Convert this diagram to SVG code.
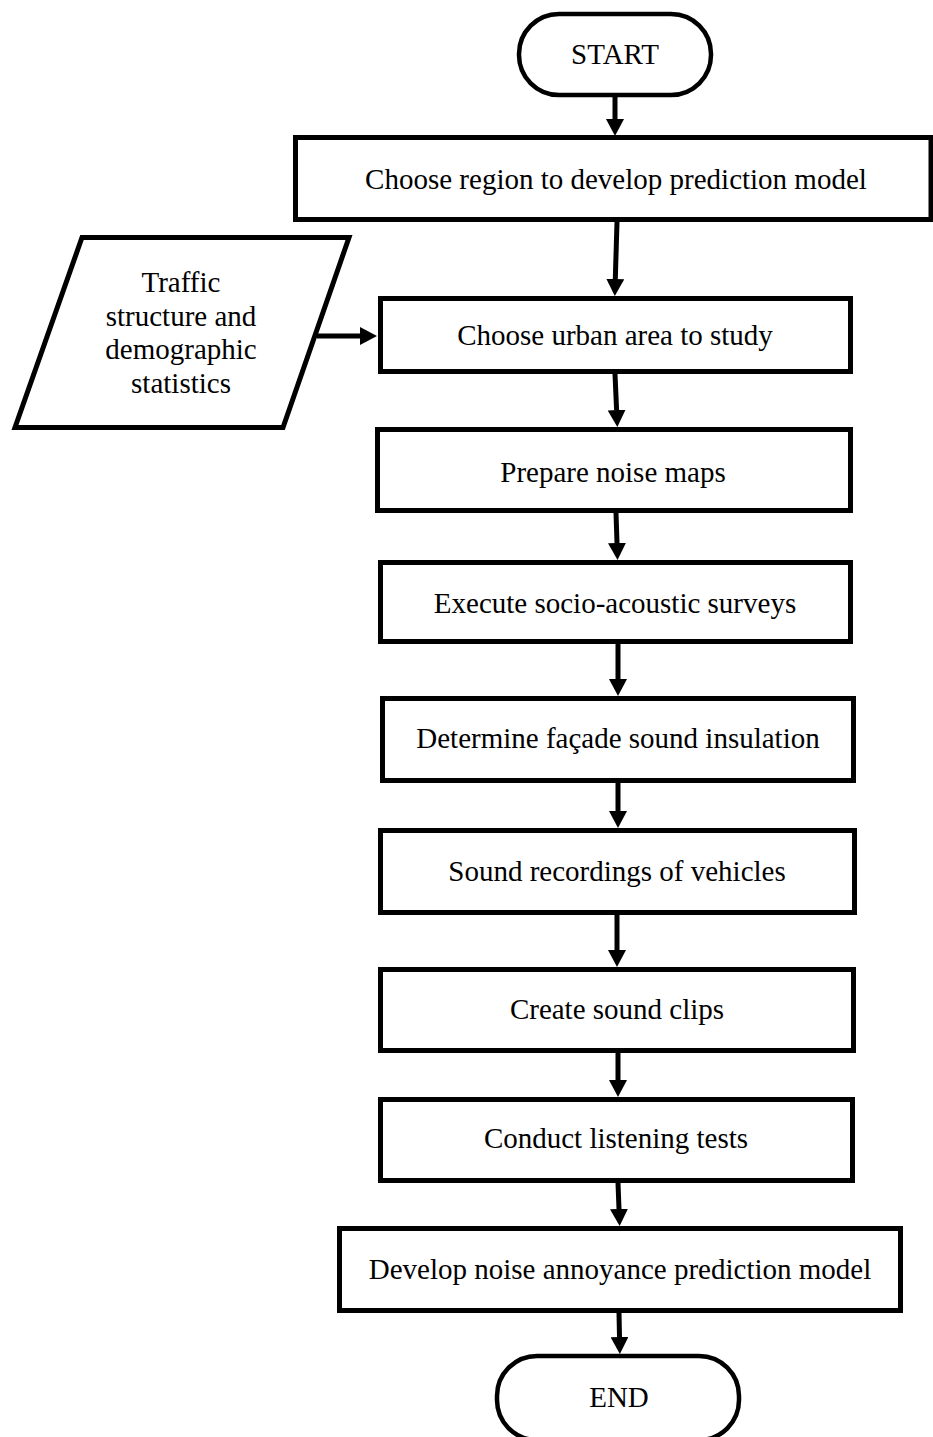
<svg xmlns="http://www.w3.org/2000/svg" width="933" height="1437" viewBox="0 0 933 1437">
<style>
.shape{fill:#fff;stroke:#000;stroke-width:5}
.term{fill:#fff;stroke:#000;stroke-width:4.5}
.lbl{font-family:"Liberation Serif","Times New Roman",serif;font-size:29px;fill:#000;text-anchor:middle}
.conn{stroke:#000;stroke-width:5;fill:none}
</style>
<defs>
<marker id="ah" markerUnits="userSpaceOnUse" markerWidth="17" markerHeight="18" viewBox="0 -9 17 18" refX="0" refY="0" orient="auto">
<path d="M0,-9 L17,0 L0,9 z" fill="#000"/>
</marker>
</defs>
<rect width="933" height="1437" fill="#fff"/>
<g id="connectors">
<line class="conn" x1="615" y1="97" x2="615" y2="119" marker-end="url(#ah)"/>
<line class="conn" x1="617" y1="222" x2="615.3" y2="279" marker-end="url(#ah)"/>
<line class="conn" x1="615" y1="374" x2="616.6" y2="410" marker-end="url(#ah)"/>
<line class="conn" x1="616" y1="513" x2="617" y2="543" marker-end="url(#ah)"/>
<line class="conn" x1="618" y1="644" x2="618" y2="679" marker-end="url(#ah)"/>
<line class="conn" x1="618" y1="783" x2="618" y2="811" marker-end="url(#ah)"/>
<line class="conn" x1="617" y1="915" x2="617" y2="950" marker-end="url(#ah)"/>
<line class="conn" x1="618" y1="1053" x2="618" y2="1080" marker-end="url(#ah)"/>
<line class="conn" x1="618" y1="1183" x2="619" y2="1209" marker-end="url(#ah)"/>
<line class="conn" x1="619" y1="1313" x2="619.5" y2="1337" marker-end="url(#ah)"/>
<line class="conn" x1="317" y1="336" x2="360" y2="336" marker-end="url(#ah)"/>
</g>
<g id="start">
<rect class="term" x="519" y="14" width="192" height="81" rx="40" ry="40"/>
<text class="lbl" x="615" y="64">START</text>
</g>
<g id="n1">
<rect class="shape" x="295.5" y="137.5" width="635.5" height="82"/>
<text class="lbl" x="616" y="189">Choose region to develop prediction model</text>
</g>
<g id="input">
<polygon class="shape" points="82,237.5 349,237.5 283,427.5 15,427.5"/>
<text class="lbl" x="181" y="292">Traffic</text>
<text class="lbl" x="181" y="325.5">structure and</text>
<text class="lbl" x="181" y="359">demographic</text>
<text class="lbl" x="181" y="392.5">statistics</text>
</g>
<g id="n2">
<rect class="shape" x="380.5" y="298.5" width="470" height="73"/>
<text class="lbl" x="615" y="345">Choose urban area to study</text>
</g>
<g id="n3">
<rect class="shape" x="377.5" y="429.5" width="473" height="81"/>
<text class="lbl" x="613" y="482">Prepare noise maps</text>
</g>
<g id="n4">
<rect class="shape" x="380.5" y="562.5" width="470" height="79"/>
<text class="lbl" x="615" y="613">Execute socio-acoustic surveys</text>
</g>
<g id="n5">
<rect class="shape" x="382.5" y="698.5" width="471" height="82"/>
<text class="lbl" x="618" y="748">Determine façade sound insulation</text>
</g>
<g id="n6">
<rect class="shape" x="380.5" y="830.5" width="474" height="82"/>
<text class="lbl" x="617" y="881">Sound recordings of vehicles</text>
</g>
<g id="n7">
<rect class="shape" x="380.5" y="969.5" width="473" height="81"/>
<text class="lbl" x="617" y="1019">Create sound clips</text>
</g>
<g id="n8">
<rect class="shape" x="380.5" y="1099.5" width="472" height="81"/>
<text class="lbl" x="616" y="1148">Conduct listening tests</text>
</g>
<g id="n9">
<rect class="shape" x="339.5" y="1228.5" width="561" height="82"/>
<text class="lbl" x="620" y="1279">Develop noise annoyance prediction model</text>
</g>
<g id="end">
<rect class="term" x="497" y="1356" width="242" height="84" rx="40" ry="40"/>
<text class="lbl" x="619" y="1407">END</text>
</g>
</svg>
